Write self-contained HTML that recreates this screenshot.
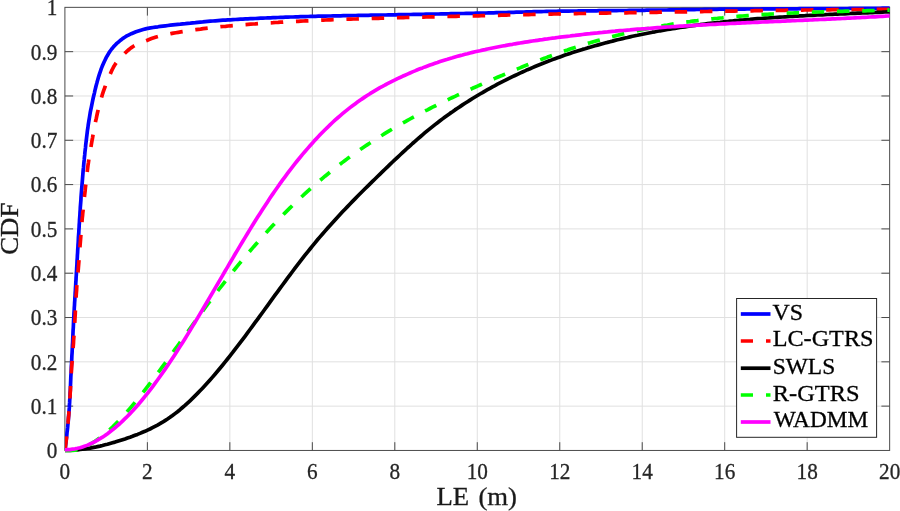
<!DOCTYPE html>
<html><head><meta charset="utf-8"><title>CDF</title>
<style>
html,body{margin:0;padding:0;background:#fff;}
body{width:900px;height:511px;overflow:hidden;}
svg{display:block;}
text{font-family:"Liberation Serif",serif;fill:#262626;}
.tk text{font-size:23.2px;stroke:#262626;stroke-width:0.3px;}
.lg{font-size:23px;fill:#000;stroke:#000;stroke-width:0.3px;}
.ax{font-size:24px;fill:#1a1a1a;stroke:#1a1a1a;stroke-width:0.3px;}
</style></head><body>
<svg width="900" height="511" viewBox="0 0 900 511">
<rect width="900" height="511" fill="#fff"/>
<g stroke="#e0e0e0" stroke-width="1"><line x1="147.38" y1="450.45" x2="147.38" y2="7.35"/><line x1="229.85" y1="450.45" x2="229.85" y2="7.35"/><line x1="312.33" y1="450.45" x2="312.33" y2="7.35"/><line x1="394.80" y1="450.45" x2="394.80" y2="7.35"/><line x1="477.27" y1="450.45" x2="477.27" y2="7.35"/><line x1="559.75" y1="450.45" x2="559.75" y2="7.35"/><line x1="642.23" y1="450.45" x2="642.23" y2="7.35"/><line x1="724.70" y1="450.45" x2="724.70" y2="7.35"/><line x1="807.17" y1="450.45" x2="807.17" y2="7.35"/><line x1="64.90" y1="406.14" x2="889.65" y2="406.14"/><line x1="64.90" y1="361.83" x2="889.65" y2="361.83"/><line x1="64.90" y1="317.52" x2="889.65" y2="317.52"/><line x1="64.90" y1="273.21" x2="889.65" y2="273.21"/><line x1="64.90" y1="228.90" x2="889.65" y2="228.90"/><line x1="64.90" y1="184.59" x2="889.65" y2="184.59"/><line x1="64.90" y1="140.28" x2="889.65" y2="140.28"/><line x1="64.90" y1="95.97" x2="889.65" y2="95.97"/><line x1="64.90" y1="51.66" x2="889.65" y2="51.66"/></g>
<rect x="64.9" y="7.35" width="824.75" height="443.09999999999997" fill="none" stroke="#4a4a4a" stroke-width="1"/>
<g stroke="#4a4a4a" stroke-width="1"><line x1="147.38" y1="450.45" x2="147.38" y2="442.20"/><line x1="147.38" y1="7.35" x2="147.38" y2="15.60"/><line x1="229.85" y1="450.45" x2="229.85" y2="442.20"/><line x1="229.85" y1="7.35" x2="229.85" y2="15.60"/><line x1="312.33" y1="450.45" x2="312.33" y2="442.20"/><line x1="312.33" y1="7.35" x2="312.33" y2="15.60"/><line x1="394.80" y1="450.45" x2="394.80" y2="442.20"/><line x1="394.80" y1="7.35" x2="394.80" y2="15.60"/><line x1="477.27" y1="450.45" x2="477.27" y2="442.20"/><line x1="477.27" y1="7.35" x2="477.27" y2="15.60"/><line x1="559.75" y1="450.45" x2="559.75" y2="442.20"/><line x1="559.75" y1="7.35" x2="559.75" y2="15.60"/><line x1="642.23" y1="450.45" x2="642.23" y2="442.20"/><line x1="642.23" y1="7.35" x2="642.23" y2="15.60"/><line x1="724.70" y1="450.45" x2="724.70" y2="442.20"/><line x1="724.70" y1="7.35" x2="724.70" y2="15.60"/><line x1="807.17" y1="450.45" x2="807.17" y2="442.20"/><line x1="807.17" y1="7.35" x2="807.17" y2="15.60"/><line x1="64.90" y1="406.14" x2="73.15" y2="406.14"/><line x1="889.65" y1="406.14" x2="881.40" y2="406.14"/><line x1="64.90" y1="361.83" x2="73.15" y2="361.83"/><line x1="889.65" y1="361.83" x2="881.40" y2="361.83"/><line x1="64.90" y1="317.52" x2="73.15" y2="317.52"/><line x1="889.65" y1="317.52" x2="881.40" y2="317.52"/><line x1="64.90" y1="273.21" x2="73.15" y2="273.21"/><line x1="889.65" y1="273.21" x2="881.40" y2="273.21"/><line x1="64.90" y1="228.90" x2="73.15" y2="228.90"/><line x1="889.65" y1="228.90" x2="881.40" y2="228.90"/><line x1="64.90" y1="184.59" x2="73.15" y2="184.59"/><line x1="889.65" y1="184.59" x2="881.40" y2="184.59"/><line x1="64.90" y1="140.28" x2="73.15" y2="140.28"/><line x1="889.65" y1="140.28" x2="881.40" y2="140.28"/><line x1="64.90" y1="95.97" x2="73.15" y2="95.97"/><line x1="889.65" y1="95.97" x2="881.40" y2="95.97"/><line x1="64.90" y1="51.66" x2="73.15" y2="51.66"/><line x1="889.65" y1="51.66" x2="881.40" y2="51.66"/></g>
<clipPath id="cp"><rect x="64.9" y="3.3499999999999996" width="824.75" height="451.09999999999997"/></clipPath>
<g fill="none" stroke-width="3.7" stroke-linejoin="round" clip-path="url(#cp)">
<path stroke="#0000ff" d="M65.0,450.3 L65.3,447.8 L65.6,445.3 L65.9,442.8 L66.2,440.3 L66.5,437.8 L66.8,435.3 L67.0,432.8 L67.3,430.4 L67.6,427.9 L67.8,425.4 L68.1,422.9 L68.3,420.4 L68.5,417.9 L68.7,415.4 L68.9,412.9 L69.1,410.4 L69.3,407.9 L69.4,405.4 L69.6,402.9 L69.7,400.4 L69.9,397.9 L70.0,395.4 L70.1,392.8 L70.3,390.3 L70.4,387.8 L70.5,385.3 L70.6,382.8 L70.7,380.3 L70.8,377.8 L70.9,375.3 L71.1,372.8 L71.2,370.3 L71.3,367.8 L71.4,365.3 L71.6,362.8 L71.7,360.3 L71.8,357.8 L71.9,355.3 L72.1,352.7 L72.2,350.2 L72.3,347.7 L72.4,345.2 L72.6,342.7 L72.7,340.2 L72.8,337.7 L72.9,335.2 L73.0,332.7 L73.1,330.2 L73.3,327.7 L73.4,325.2 L73.5,322.7 L73.6,320.2 L73.8,317.7 L73.9,315.2 L74.0,312.7 L74.2,310.2 L74.3,307.6 L74.5,305.1 L74.6,302.6 L74.8,300.1 L74.9,297.6 L75.1,295.1 L75.2,292.6 L75.4,290.1 L75.5,287.6 L75.7,285.1 L75.8,282.6 L76.0,280.1 L76.1,277.6 L76.3,275.1 L76.4,272.6 L76.6,270.1 L76.7,267.6 L76.9,265.1 L77.0,262.6 L77.1,260.1 L77.3,257.6 L77.4,255.1 L77.6,252.6 L77.7,250.0 L77.9,247.5 L78.0,245.0 L78.2,242.5 L78.3,240.0 L78.4,237.5 L78.6,235.0 L78.8,232.5 L78.9,230.0 L79.1,227.5 L79.2,225.0 L79.4,222.5 L79.5,220.0 L79.7,217.5 L79.9,215.0 L80.0,212.5 L80.2,210.0 L80.3,207.5 L80.5,205.0 L80.7,202.5 L80.9,200.0 L81.0,197.5 L81.2,195.0 L81.4,192.5 L81.6,190.0 L81.8,187.5 L82.0,185.0 L82.2,182.5 L82.4,180.0 L82.6,177.5 L82.8,175.0 L83.0,172.5 L83.2,170.0 L83.5,167.5 L83.7,165.0 L83.9,162.5 L84.2,160.0 L84.4,157.5 L84.7,155.0 L84.9,152.5 L85.2,150.0 L85.5,147.5 L85.7,145.0 L86.0,142.5 L86.3,140.0 L86.6,137.5 L86.9,135.0 L87.2,132.5 L87.5,130.1 L87.9,127.6 L88.2,125.1 L88.6,122.6 L89.0,120.1 L89.4,117.7 L89.8,115.2 L90.2,112.7 L90.7,110.2 L91.2,107.8 L91.7,105.3 L92.2,102.9 L92.7,100.4 L93.2,98.0 L93.8,95.5 L94.4,93.1 L94.9,90.6 L95.5,88.2 L96.1,85.7 L96.8,83.3 L97.4,80.9 L98.1,78.5 L98.8,76.1 L99.6,73.7 L100.4,71.3 L101.2,68.9 L102.1,66.6 L103.1,64.3 L104.1,62.0 L105.2,59.7 L106.3,57.4 L107.6,55.2 L108.8,53.1 L110.2,51.0 L111.7,49.0 L113.3,47.1 L115.0,45.2 L116.8,43.4 L118.7,41.8 L120.6,40.2 L122.6,38.6 L124.7,37.2 L126.8,35.9 L129.0,34.8 L131.3,33.7 L133.7,32.7 L136.0,31.8 L138.4,31.0 L140.8,30.2 L143.2,29.5 L145.6,28.9 L148.0,28.3 L150.5,27.9 L153.0,27.5 L155.5,27.1 L158.0,26.8 L160.4,26.4 L162.9,26.1 L165.4,25.8 L167.9,25.5 L170.4,25.2 L172.9,24.9 L175.4,24.6 L177.9,24.3 L180.4,24.1 L182.9,23.8 L185.4,23.6 L187.9,23.3 L190.4,23.1 L192.9,22.8 L195.4,22.6 L197.8,22.3 L200.3,22.1 L202.8,21.9 L205.3,21.6 L207.8,21.4 L210.3,21.2 L212.8,21.0 L215.3,20.8 L217.9,20.6 L220.4,20.4 L222.9,20.2 L225.4,20.1 L227.9,19.9 L230.4,19.8 L232.9,19.6 L235.4,19.5 L237.9,19.3 L240.4,19.2 L242.9,19.1 L245.4,18.9 L247.9,18.8 L250.4,18.7 L252.9,18.6 L255.4,18.5 L257.9,18.3 L260.4,18.2 L262.9,18.1 L265.4,18.0 L267.9,17.9 L270.4,17.8 L273.0,17.7 L275.5,17.6 L278.0,17.5 L280.5,17.4 L283.0,17.3 L285.5,17.2 L288.0,17.1 L290.5,17.0 L293.0,17.0 L295.5,16.9 L298.0,16.8 L300.5,16.7 L303.0,16.6 L305.6,16.6 L308.1,16.5 L310.6,16.4 L313.1,16.4 L315.6,16.3 L318.1,16.2 L320.6,16.2 L323.1,16.1 L325.6,16.1 L328.1,16.0 L330.6,16.0 L333.1,15.9 L335.6,15.9 L338.2,15.8 L340.7,15.8 L343.2,15.7 L345.7,15.7 L348.2,15.6 L350.7,15.6 L353.2,15.5 L355.7,15.5 L358.2,15.4 L360.7,15.4 L363.2,15.4 L365.7,15.3 L368.3,15.3 L370.8,15.2 L373.3,15.2 L375.8,15.1 L378.3,15.1 L380.8,15.1 L383.3,15.0 L385.8,15.0 L388.3,14.9 L390.8,14.9 L393.3,14.8 L395.8,14.8 L398.4,14.7 L400.9,14.7 L403.4,14.6 L405.9,14.6 L408.4,14.5 L410.9,14.5 L413.4,14.4 L415.9,14.4 L418.4,14.4 L420.9,14.3 L423.4,14.3 L425.9,14.2 L428.5,14.2 L431.0,14.1 L433.5,14.1 L436.0,14.0 L438.5,14.0 L441.0,13.9 L443.5,13.9 L446.0,13.8 L448.5,13.8 L451.0,13.7 L453.5,13.7 L456.0,13.6 L458.6,13.6 L461.1,13.5 L463.6,13.5 L466.1,13.4 L468.6,13.4 L471.1,13.3 L473.6,13.3 L476.1,13.2 L478.6,13.2 L481.1,13.1 L483.6,13.1 L486.1,13.0 L488.7,12.9 L491.2,12.9 L493.7,12.8 L496.2,12.7 L498.7,12.7 L501.2,12.6 L503.7,12.5 L506.2,12.5 L508.7,12.4 L511.2,12.3 L513.7,12.3 L516.2,12.2 L518.7,12.1 L521.3,12.1 L523.8,12.0 L526.3,11.9 L528.8,11.9 L531.3,11.8 L533.8,11.7 L536.3,11.7 L538.8,11.6 L541.3,11.6 L543.8,11.5 L546.3,11.4 L548.8,11.4 L551.3,11.3 L553.9,11.3 L556.4,11.3 L558.9,11.2 L561.4,11.2 L563.9,11.1 L566.4,11.1 L568.9,11.1 L571.4,11.0 L573.9,11.0 L576.4,11.0 L578.9,10.9 L581.4,10.9 L584.0,10.9 L586.5,10.9 L589.0,10.8 L591.5,10.8 L594.0,10.8 L596.5,10.8 L599.0,10.7 L601.5,10.7 L604.0,10.7 L606.5,10.7 L609.0,10.6 L611.5,10.6 L614.1,10.6 L616.6,10.6 L619.1,10.5 L621.6,10.5 L624.1,10.5 L626.6,10.5 L629.1,10.4 L631.6,10.4 L634.1,10.4 L636.6,10.4 L639.1,10.3 L641.7,10.3 L644.2,10.3 L646.7,10.2 L649.2,10.2 L651.7,10.2 L654.2,10.1 L656.7,10.1 L659.2,10.1 L661.7,10.0 L664.2,10.0 L666.7,10.0 L669.2,9.9 L671.8,9.9 L674.3,9.9 L676.8,9.8 L679.3,9.8 L681.8,9.7 L684.3,9.7 L686.8,9.7 L689.3,9.6 L691.8,9.6 L694.3,9.6 L696.8,9.5 L699.3,9.5 L701.9,9.5 L704.4,9.4 L706.9,9.4 L709.4,9.4 L711.9,9.3 L714.4,9.3 L716.9,9.3 L719.4,9.2 L721.9,9.2 L724.4,9.2 L726.9,9.2 L729.4,9.2 L732.0,9.1 L734.5,9.1 L737.0,9.1 L739.5,9.1 L742.0,9.1 L744.5,9.1 L747.0,9.0 L749.5,9.0 L752.0,9.0 L754.5,9.0 L757.0,9.0 L759.6,9.0 L762.1,8.9 L764.6,8.9 L767.1,8.9 L769.6,8.9 L772.1,8.9 L774.6,8.9 L777.1,8.9 L779.6,8.9 L782.1,8.8 L784.6,8.8 L787.1,8.8 L789.7,8.8 L792.2,8.8 L794.7,8.8 L797.2,8.8 L799.7,8.7 L802.2,8.7 L804.7,8.7 L807.2,8.7 L809.7,8.7 L812.2,8.7 L814.7,8.7 L817.3,8.6 L819.8,8.6 L822.3,8.6 L824.8,8.6 L827.3,8.6 L829.8,8.6 L832.3,8.5 L834.8,8.5 L837.3,8.5 L839.8,8.5 L842.3,8.5 L844.8,8.5 L847.4,8.5 L849.9,8.4 L852.4,8.4 L854.9,8.4 L857.4,8.4 L859.9,8.4 L862.4,8.4 L864.9,8.4 L867.4,8.3 L869.9,8.3 L872.4,8.3 L874.9,8.3 L877.5,8.3 L880.0,8.3 L882.5,8.2 L885.0,8.2 L887.5,8.2 L890.0,8.2"/>
<path stroke="#ff0000" stroke-dasharray="12.5 12.76" stroke-dashoffset="-1.5" d="M65.0,450.3 L65.3,447.8 L65.6,445.3 L65.9,442.8 L66.2,440.3 L66.5,437.8 L66.7,435.3 L67.0,432.8 L67.2,430.3 L67.5,427.9 L67.7,425.4 L68.0,422.9 L68.2,420.4 L68.4,417.9 L68.7,415.4 L68.9,412.9 L69.1,410.4 L69.3,407.9 L69.4,405.4 L69.6,402.9 L69.8,400.4 L69.9,397.9 L70.1,395.4 L70.2,392.9 L70.4,390.3 L70.5,387.8 L70.6,385.3 L70.8,382.8 L70.9,380.3 L71.0,377.8 L71.2,375.3 L71.3,372.8 L71.5,370.3 L71.6,367.8 L71.8,365.3 L72.0,362.8 L72.2,360.3 L72.4,357.8 L72.6,355.3 L72.7,352.8 L72.9,350.3 L73.1,347.8 L73.3,345.3 L73.5,342.8 L73.6,340.3 L73.8,337.8 L74.0,335.3 L74.1,332.8 L74.3,330.3 L74.4,327.8 L74.6,325.3 L74.7,322.8 L74.9,320.3 L75.0,317.8 L75.2,315.2 L75.3,312.7 L75.4,310.2 L75.6,307.7 L75.7,305.2 L75.8,302.7 L75.9,300.2 L76.1,297.7 L76.2,295.2 L76.4,292.7 L76.6,290.2 L76.7,287.7 L76.9,285.2 L77.1,282.7 L77.4,280.2 L77.6,277.7 L77.8,275.2 L78.0,272.7 L78.2,270.2 L78.4,267.7 L78.6,265.2 L78.8,262.7 L79.0,260.2 L79.2,257.7 L79.4,255.2 L79.6,252.7 L79.7,250.2 L79.9,247.7 L80.1,245.2 L80.3,242.7 L80.5,240.2 L80.7,237.7 L80.9,235.2 L81.1,232.7 L81.3,230.2 L81.5,227.7 L81.7,225.2 L81.9,222.7 L82.1,220.2 L82.3,217.7 L82.6,215.2 L82.8,212.7 L83.1,210.2 L83.3,207.7 L83.6,205.2 L83.8,202.7 L84.1,200.2 L84.4,197.7 L84.6,195.2 L84.9,192.7 L85.2,190.2 L85.4,187.7 L85.7,185.3 L86.0,182.8 L86.2,180.3 L86.5,177.8 L86.8,175.3 L87.1,172.8 L87.4,170.3 L87.7,167.8 L88.0,165.3 L88.4,162.8 L88.7,160.4 L89.1,157.9 L89.5,155.4 L89.9,152.9 L90.3,150.4 L90.8,148.0 L91.2,145.5 L91.6,143.0 L92.0,140.6 L92.5,138.1 L92.9,135.6 L93.4,133.1 L93.8,130.7 L94.3,128.2 L94.8,125.7 L95.2,123.3 L95.7,120.8 L96.3,118.4 L96.8,115.9 L97.3,113.5 L97.9,111.0 L98.5,108.6 L99.1,106.2 L99.8,103.7 L100.4,101.3 L101.1,98.9 L101.8,96.5 L102.5,94.1 L103.3,91.7 L104.1,89.3 L105.0,87.0 L105.8,84.6 L106.8,82.3 L107.7,79.9 L108.7,77.6 L109.7,75.3 L110.7,73.0 L111.7,70.7 L112.8,68.5 L114.0,66.2 L115.3,64.1 L116.7,62.1 L118.3,60.1 L119.9,58.2 L121.7,56.4 L123.5,54.6 L125.3,52.8 L127.1,51.2 L129.0,49.5 L131.0,47.9 L133.1,46.5 L135.2,45.2 L137.4,44.1 L139.7,43.1 L142.1,42.2 L144.4,41.3 L146.8,40.4 L149.1,39.5 L151.5,38.6 L153.8,37.8 L156.2,37.0 L158.6,36.3 L161.1,35.7 L163.5,35.1 L166.0,34.6 L168.4,34.1 L170.9,33.6 L173.4,33.1 L175.8,32.7 L178.3,32.3 L180.8,31.9 L183.3,31.5 L185.7,31.1 L188.2,30.7 L190.7,30.4 L193.2,30.0 L195.7,29.7 L198.2,29.4 L200.6,29.1 L203.1,28.7 L205.6,28.4 L208.1,28.1 L210.6,27.8 L213.1,27.6 L215.6,27.3 L218.1,27.0 L220.6,26.7 L223.1,26.5 L225.6,26.3 L228.1,26.0 L230.6,25.8 L233.1,25.6 L235.6,25.4 L238.1,25.2 L240.6,25.0 L243.1,24.8 L245.6,24.6 L248.1,24.4 L250.6,24.2 L253.1,24.0 L255.6,23.9 L258.1,23.7 L260.6,23.5 L263.1,23.3 L265.6,23.2 L268.1,23.0 L270.6,22.8 L273.1,22.7 L275.6,22.5 L278.1,22.4 L280.6,22.2 L283.1,22.1 L285.6,21.9 L288.1,21.8 L290.6,21.7 L293.1,21.5 L295.6,21.4 L298.2,21.3 L300.7,21.1 L303.2,21.0 L305.7,20.9 L308.2,20.8 L310.7,20.7 L313.2,20.5 L315.7,20.4 L318.2,20.3 L320.7,20.2 L323.2,20.1 L325.7,20.0 L328.2,19.9 L330.7,19.8 L333.2,19.7 L335.7,19.6 L338.2,19.6 L340.8,19.5 L343.3,19.4 L345.8,19.3 L348.3,19.2 L350.8,19.1 L353.3,19.0 L355.8,19.0 L358.3,18.9 L360.8,18.8 L363.3,18.7 L365.8,18.6 L368.3,18.6 L370.8,18.5 L373.4,18.4 L375.9,18.3 L378.4,18.3 L380.9,18.2 L383.4,18.1 L385.9,18.1 L388.4,18.0 L390.9,17.9 L393.4,17.8 L395.9,17.8 L398.4,17.7 L400.9,17.6 L403.4,17.6 L405.9,17.5 L408.5,17.4 L411.0,17.4 L413.5,17.3 L416.0,17.2 L418.5,17.2 L421.0,17.1 L423.5,17.1 L426.0,17.0 L428.5,16.9 L431.0,16.9 L433.5,16.8 L436.0,16.8 L438.5,16.7 L441.1,16.6 L443.6,16.6 L446.1,16.5 L448.6,16.5 L451.1,16.4 L453.6,16.3 L456.1,16.3 L458.6,16.2 L461.1,16.2 L463.6,16.1 L466.1,16.1 L468.6,16.0 L471.1,15.9 L473.7,15.9 L476.2,15.8 L478.7,15.8 L481.2,15.7 L483.7,15.6 L486.2,15.6 L488.7,15.5 L491.2,15.5 L493.7,15.4 L496.2,15.3 L498.7,15.3 L501.2,15.2 L503.7,15.2 L506.3,15.1 L508.8,15.0 L511.3,15.0 L513.8,14.9 L516.3,14.9 L518.8,14.8 L521.3,14.7 L523.8,14.7 L526.3,14.6 L528.8,14.6 L531.3,14.5 L533.8,14.4 L536.4,14.4 L538.9,14.3 L541.4,14.3 L543.9,14.2 L546.4,14.2 L548.9,14.1 L551.4,14.1 L553.9,14.0 L556.4,14.0 L558.9,13.9 L561.4,13.9 L563.9,13.8 L566.4,13.8 L569.0,13.7 L571.5,13.7 L574.0,13.6 L576.5,13.6 L579.0,13.5 L581.5,13.5 L584.0,13.5 L586.5,13.4 L589.0,13.4 L591.5,13.3 L594.0,13.3 L596.5,13.2 L599.0,13.2 L601.6,13.2 L604.1,13.1 L606.6,13.1 L609.1,13.0 L611.6,13.0 L614.1,13.0 L616.6,12.9 L619.1,12.9 L621.6,12.8 L624.1,12.8 L626.6,12.8 L629.1,12.7 L631.7,12.7 L634.2,12.6 L636.7,12.6 L639.2,12.6 L641.7,12.5 L644.2,12.5 L646.7,12.4 L649.2,12.4 L651.7,12.3 L654.2,12.3 L656.7,12.3 L659.2,12.2 L661.8,12.2 L664.3,12.1 L666.8,12.1 L669.3,12.1 L671.8,12.0 L674.3,12.0 L676.8,11.9 L679.3,11.9 L681.8,11.9 L684.3,11.8 L686.8,11.8 L689.3,11.7 L691.8,11.7 L694.4,11.7 L696.9,11.6 L699.4,11.6 L701.9,11.6 L704.4,11.5 L706.9,11.5 L709.4,11.4 L711.9,11.4 L714.4,11.4 L716.9,11.3 L719.4,11.3 L721.9,11.2 L724.5,11.2 L727.0,11.2 L729.5,11.1 L732.0,11.1 L734.5,11.1 L737.0,11.0 L739.5,11.0 L742.0,10.9 L744.5,10.9 L747.0,10.9 L749.5,10.8 L752.0,10.8 L754.6,10.7 L757.1,10.7 L759.6,10.7 L762.1,10.6 L764.6,10.6 L767.1,10.5 L769.6,10.5 L772.1,10.5 L774.6,10.4 L777.1,10.4 L779.6,10.3 L782.1,10.3 L784.7,10.3 L787.2,10.2 L789.7,10.2 L792.2,10.2 L794.7,10.1 L797.2,10.1 L799.7,10.1 L802.2,10.1 L804.7,10.0 L807.2,10.0 L809.7,10.0 L812.2,9.9 L814.7,9.9 L817.3,9.9 L819.8,9.9 L822.3,9.8 L824.8,9.8 L827.3,9.8 L829.8,9.8 L832.3,9.7 L834.8,9.7 L837.3,9.7 L839.8,9.7 L842.3,9.6 L844.8,9.6 L847.4,9.6 L849.9,9.6 L852.4,9.6 L854.9,9.5 L857.4,9.5 L859.9,9.5 L862.4,9.5 L864.9,9.5 L867.4,9.4 L869.9,9.4 L872.4,9.4 L874.9,9.4 L877.5,9.4 L880.0,9.4 L882.5,9.3 L885.0,9.3 L887.5,9.3 L890.0,9.3"/>
<path stroke="#ff0000" d="M65,451 L65.3,447.3"/>
<path stroke="#000000" d="M65.0,450.4 L67.5,450.4 L70.0,450.3 L72.5,450.2 L75.0,450.0 L77.5,449.8 L80.0,449.5 L82.5,449.2 L85.0,448.9 L87.5,448.5 L90.0,448.1 L92.5,447.6 L95.0,447.2 L97.5,446.6 L100.0,446.1 L102.5,445.5 L105.0,444.8 L107.5,444.2 L110.0,443.5 L112.5,442.8 L115.0,442.1 L117.5,441.3 L120.0,440.5 L122.5,439.7 L125.0,438.9 L127.5,438.0 L130.0,437.2 L132.5,436.3 L135.0,435.3 L137.5,434.4 L140.0,433.4 L142.5,432.3 L145.0,431.3 L147.5,430.1 L150.0,429.0 L152.5,427.7 L155.0,426.4 L157.5,425.1 L160.0,423.7 L162.5,422.2 L165.0,420.6 L167.5,419.0 L170.0,417.3 L172.5,415.5 L175.0,413.6 L177.5,411.7 L180.0,409.7 L182.5,407.5 L185.0,405.4 L187.5,403.1 L190.0,400.8 L192.5,398.4 L195.0,395.9 L197.5,393.4 L200.0,390.8 L202.5,388.2 L205.0,385.5 L207.5,382.8 L210.0,380.0 L212.5,377.1 L215.0,374.2 L217.5,371.2 L220.0,368.2 L222.5,365.2 L225.0,362.1 L227.5,359.0 L230.0,355.8 L232.5,352.7 L235.0,349.4 L237.5,346.2 L240.0,342.9 L242.5,339.6 L245.0,336.3 L247.5,332.9 L250.0,329.5 L252.5,326.1 L255.0,322.7 L257.5,319.3 L260.0,315.9 L262.5,312.5 L265.0,309.0 L267.5,305.6 L270.0,302.1 L272.5,298.7 L275.0,295.2 L277.5,291.8 L280.0,288.4 L282.5,285.0 L285.0,281.6 L287.5,278.2 L290.0,274.9 L292.5,271.5 L295.0,268.2 L297.5,264.9 L300.0,261.7 L302.5,258.4 L305.0,255.2 L307.5,252.1 L310.0,249.0 L312.5,245.9 L315.0,242.8 L317.5,239.8 L320.0,236.9 L322.5,234.0 L325.0,231.1 L327.5,228.2 L330.0,225.4 L332.5,222.7 L335.0,219.9 L337.5,217.2 L340.0,214.5 L342.5,211.8 L345.0,209.2 L347.5,206.6 L350.0,204.0 L352.5,201.4 L355.0,198.9 L357.5,196.3 L360.0,193.8 L362.5,191.3 L365.0,188.8 L367.5,186.4 L370.0,183.9 L372.5,181.4 L375.0,179.0 L377.5,176.5 L380.0,174.1 L382.5,171.7 L385.0,169.2 L387.5,166.8 L390.0,164.4 L392.5,162.0 L395.0,159.7 L397.5,157.3 L400.0,155.0 L402.5,152.6 L405.0,150.3 L407.5,148.0 L410.0,145.8 L412.5,143.5 L415.0,141.3 L417.5,139.1 L420.0,137.0 L422.5,134.8 L425.0,132.7 L427.5,130.6 L430.0,128.6 L432.5,126.6 L435.0,124.6 L437.5,122.7 L440.0,120.8 L442.5,118.9 L445.0,117.0 L447.5,115.2 L450.0,113.4 L452.5,111.7 L455.0,109.9 L457.5,108.2 L460.0,106.6 L462.5,104.9 L465.0,103.3 L467.5,101.7 L470.0,100.1 L472.5,98.5 L475.0,97.0 L477.5,95.5 L480.0,94.0 L482.5,92.6 L485.0,91.1 L487.5,89.7 L490.0,88.3 L492.5,86.9 L495.0,85.6 L497.5,84.2 L500.0,82.9 L502.5,81.6 L505.0,80.4 L507.5,79.1 L510.0,77.9 L512.5,76.7 L515.0,75.5 L517.5,74.3 L520.0,73.1 L522.5,72.0 L525.0,70.9 L527.5,69.7 L530.0,68.7 L532.5,67.6 L535.0,66.5 L537.5,65.5 L540.0,64.5 L542.5,63.5 L545.0,62.5 L547.5,61.5 L550.0,60.6 L552.5,59.6 L555.0,58.7 L557.5,57.8 L560.0,56.9 L562.5,56.0 L565.0,55.1 L567.5,54.3 L570.0,53.4 L572.5,52.6 L575.0,51.8 L577.5,51.0 L580.0,50.2 L582.5,49.4 L585.0,48.7 L587.5,47.9 L590.0,47.2 L592.5,46.5 L595.0,45.8 L597.5,45.1 L600.0,44.4 L602.5,43.7 L605.0,43.0 L607.5,42.4 L610.0,41.7 L612.5,41.1 L615.0,40.4 L617.5,39.8 L620.0,39.2 L622.5,38.6 L625.0,38.0 L627.5,37.5 L630.0,36.9 L632.5,36.3 L635.0,35.8 L637.5,35.3 L640.0,34.7 L642.5,34.2 L645.0,33.7 L647.5,33.2 L650.0,32.7 L652.5,32.2 L655.0,31.8 L657.5,31.3 L660.0,30.8 L662.5,30.4 L665.0,30.0 L667.5,29.5 L670.0,29.1 L672.5,28.7 L675.0,28.3 L677.5,27.9 L680.0,27.5 L682.5,27.1 L685.0,26.8 L687.5,26.4 L690.0,26.0 L692.5,25.7 L695.0,25.3 L697.5,25.0 L700.0,24.7 L702.5,24.3 L705.0,24.0 L707.5,23.7 L710.0,23.4 L712.5,23.1 L715.0,22.8 L717.5,22.5 L720.0,22.3 L722.5,22.0 L725.0,21.7 L727.5,21.5 L730.0,21.2 L732.5,21.0 L735.0,20.7 L737.5,20.5 L740.0,20.2 L742.5,20.0 L745.0,19.8 L747.5,19.6 L750.0,19.4 L752.5,19.1 L755.0,18.9 L757.5,18.7 L760.0,18.5 L762.5,18.4 L765.0,18.2 L767.5,18.0 L770.0,17.8 L772.5,17.6 L775.0,17.5 L777.5,17.3 L780.0,17.1 L782.5,17.0 L785.0,16.8 L787.5,16.7 L790.0,16.5 L792.5,16.4 L795.0,16.2 L797.5,16.1 L800.0,15.9 L802.5,15.8 L805.0,15.7 L807.5,15.5 L810.0,15.4 L812.5,15.3 L815.0,15.1 L817.5,15.0 L820.0,14.9 L822.5,14.8 L825.0,14.7 L827.5,14.5 L830.0,14.4 L832.5,14.3 L835.0,14.2 L837.5,14.1 L840.0,14.0 L842.5,13.9 L845.0,13.8 L847.5,13.7 L850.0,13.5 L852.5,13.4 L855.0,13.3 L857.5,13.2 L860.0,13.1 L862.5,13.0 L865.0,12.9 L867.5,12.8 L870.0,12.7 L872.5,12.6 L875.0,12.5 L877.5,12.4 L880.0,12.3 L882.5,12.2 L885.0,12.0 L887.5,11.9 L890.0,11.8"/>
<path stroke="#00ff00" stroke-dasharray="12.5 12.7" stroke-dashoffset="0" d="M65.0,450.4 L67.5,450.4 L70.0,450.4 L72.5,450.4 L75.0,450.2 L77.5,449.6 L80.0,448.8 L82.5,447.9 L85.0,446.8 L87.5,445.6 L90.0,444.3 L92.5,442.9 L95.0,441.3 L97.5,439.6 L100.0,437.8 L102.5,435.8 L105.0,433.8 L107.5,431.6 L110.0,429.4 L112.5,427.1 L115.0,424.6 L117.5,422.1 L120.0,419.5 L122.5,416.9 L125.0,414.1 L127.5,411.3 L130.0,408.4 L132.5,405.4 L135.0,402.4 L137.5,399.4 L140.0,396.3 L142.5,393.1 L145.0,389.9 L147.5,386.7 L150.0,383.4 L152.5,380.1 L155.0,376.8 L157.5,373.4 L160.0,370.1 L162.5,366.7 L165.0,363.3 L167.5,359.8 L170.0,356.4 L172.5,352.9 L175.0,349.4 L177.5,346.0 L180.0,342.5 L182.5,339.0 L185.0,335.5 L187.5,332.0 L190.0,328.6 L192.5,325.1 L195.0,321.6 L197.5,318.2 L200.0,314.7 L202.5,311.3 L205.0,307.9 L207.5,304.5 L210.0,301.2 L212.5,297.9 L215.0,294.5 L217.5,291.3 L220.0,288.0 L222.5,284.8 L225.0,281.6 L227.5,278.4 L230.0,275.2 L232.5,272.1 L235.0,269.0 L237.5,265.9 L240.0,262.9 L242.5,259.9 L245.0,256.9 L247.5,253.9 L250.0,251.0 L252.5,248.1 L255.0,245.2 L257.5,242.4 L260.0,239.5 L262.5,236.7 L265.0,234.0 L267.5,231.2 L270.0,228.5 L272.5,225.8 L275.0,223.2 L277.5,220.6 L280.0,218.0 L282.5,215.4 L285.0,212.9 L287.5,210.4 L290.0,207.9 L292.5,205.5 L295.0,203.0 L297.5,200.7 L300.0,198.3 L302.5,196.0 L305.0,193.7 L307.5,191.4 L310.0,189.1 L312.5,186.9 L315.0,184.7 L317.5,182.6 L320.0,180.4 L322.5,178.3 L325.0,176.2 L327.5,174.2 L330.0,172.2 L332.5,170.2 L335.0,168.2 L337.5,166.2 L340.0,164.3 L342.5,162.4 L345.0,160.5 L347.5,158.6 L350.0,156.8 L352.5,155.0 L355.0,153.2 L357.5,151.5 L360.0,149.7 L362.5,148.0 L365.0,146.3 L367.5,144.6 L370.0,143.0 L372.5,141.3 L375.0,139.7 L377.5,138.1 L380.0,136.5 L382.5,135.0 L385.0,133.4 L387.5,131.9 L390.0,130.4 L392.5,128.9 L395.0,127.5 L397.5,126.0 L400.0,124.6 L402.5,123.2 L405.0,121.8 L407.5,120.4 L410.0,119.0 L412.5,117.6 L415.0,116.3 L417.5,115.0 L420.0,113.6 L422.5,112.3 L425.0,111.0 L427.5,109.8 L430.0,108.5 L432.5,107.2 L435.0,106.0 L437.5,104.7 L440.0,103.5 L442.5,102.3 L445.0,101.1 L447.5,99.9 L450.0,98.7 L452.5,97.5 L455.0,96.4 L457.5,95.2 L460.0,94.0 L462.5,92.9 L465.0,91.7 L467.5,90.6 L470.0,89.5 L472.5,88.3 L475.0,87.2 L477.5,86.1 L480.0,85.0 L482.5,83.9 L485.0,82.8 L487.5,81.7 L490.0,80.6 L492.5,79.5 L495.0,78.4 L497.5,77.3 L500.0,76.2 L502.5,75.2 L505.0,74.1 L507.5,73.0 L510.0,72.0 L512.5,71.0 L515.0,69.9 L517.5,68.9 L520.0,67.9 L522.5,66.8 L525.0,65.8 L527.5,64.8 L530.0,63.8 L532.5,62.9 L535.0,61.9 L537.5,60.9 L540.0,60.0 L542.5,59.0 L545.0,58.1 L547.5,57.1 L550.0,56.2 L552.5,55.3 L555.0,54.4 L557.5,53.5 L560.0,52.6 L562.5,51.7 L565.0,50.8 L567.5,50.0 L570.0,49.1 L572.5,48.3 L575.0,47.5 L577.5,46.7 L580.0,45.9 L582.5,45.1 L585.0,44.3 L587.5,43.5 L590.0,42.8 L592.5,42.0 L595.0,41.3 L597.5,40.6 L600.0,39.9 L602.5,39.2 L605.0,38.5 L607.5,37.8 L610.0,37.2 L612.5,36.5 L615.0,35.9 L617.5,35.2 L620.0,34.6 L622.5,34.0 L625.0,33.4 L627.5,32.9 L630.0,32.3 L632.5,31.7 L635.0,31.2 L637.5,30.6 L640.0,30.1 L642.5,29.6 L645.0,29.1 L647.5,28.6 L650.0,28.1 L652.5,27.6 L655.0,27.2 L657.5,26.7 L660.0,26.2 L662.5,25.8 L665.0,25.4 L667.5,25.0 L670.0,24.5 L672.5,24.1 L675.0,23.7 L677.5,23.4 L680.0,23.0 L682.5,22.6 L685.0,22.2 L687.5,21.9 L690.0,21.6 L692.5,21.2 L695.0,20.9 L697.5,20.6 L700.0,20.2 L702.5,19.9 L705.0,19.6 L707.5,19.4 L710.0,19.1 L712.5,18.8 L715.0,18.5 L717.5,18.3 L720.0,18.0 L722.5,17.8 L725.0,17.5 L727.5,17.3 L730.0,17.0 L732.5,16.8 L735.0,16.6 L737.5,16.4 L740.0,16.2 L742.5,16.0 L745.0,15.8 L747.5,15.6 L750.0,15.4 L752.5,15.2 L755.0,15.1 L757.5,14.9 L760.0,14.7 L762.5,14.6 L765.0,14.4 L767.5,14.3 L770.0,14.1 L772.5,14.0 L775.0,13.8 L777.5,13.7 L780.0,13.6 L782.5,13.4 L785.0,13.3 L787.5,13.2 L790.0,13.1 L792.5,13.0 L795.0,12.9 L797.5,12.8 L800.0,12.7 L802.5,12.6 L805.0,12.5 L807.5,12.4 L810.0,12.3 L812.5,12.2 L815.0,12.1 L817.5,12.0 L820.0,12.0 L822.5,11.9 L825.0,11.8 L827.5,11.7 L830.0,11.6 L832.5,11.6 L835.0,11.5 L837.5,11.4 L840.0,11.4 L842.5,11.3 L845.0,11.2 L847.5,11.2 L850.0,11.1 L852.5,11.1 L855.0,11.0 L857.5,10.9 L860.0,10.9 L862.5,10.8 L865.0,10.8 L867.5,10.7 L870.0,10.6 L872.5,10.6 L875.0,10.5 L877.5,10.5 L880.0,10.4 L882.5,10.3 L885.0,10.3 L887.5,10.2 L890.0,10.1"/>
<path stroke="#ff00ff" d="M65.0,449.8 L67.5,449.7 L70.0,449.6 L72.5,449.2 L75.0,448.8 L77.5,448.3 L80.0,447.7 L82.5,446.9 L85.0,446.1 L87.5,445.1 L90.0,444.0 L92.5,442.9 L95.0,441.6 L97.5,440.2 L100.0,438.7 L102.5,437.2 L105.0,435.5 L107.5,433.7 L110.0,431.8 L112.5,429.9 L115.0,427.8 L117.5,425.7 L120.0,423.5 L122.5,421.1 L125.0,418.7 L127.5,416.2 L130.0,413.6 L132.5,411.0 L135.0,408.2 L137.5,405.4 L140.0,402.5 L142.5,399.5 L145.0,396.4 L147.5,393.3 L150.0,390.1 L152.5,386.8 L155.0,383.4 L157.5,380.0 L160.0,376.5 L162.5,373.0 L165.0,369.4 L167.5,365.7 L170.0,362.0 L172.5,358.2 L175.0,354.4 L177.5,350.5 L180.0,346.6 L182.5,342.7 L185.0,338.7 L187.5,334.6 L190.0,330.6 L192.5,326.4 L195.0,322.3 L197.5,318.1 L200.0,313.9 L202.5,309.7 L205.0,305.5 L207.5,301.2 L210.0,297.0 L212.5,292.7 L215.0,288.4 L217.5,284.2 L220.0,279.9 L222.5,275.6 L225.0,271.3 L227.5,267.1 L230.0,262.8 L232.5,258.6 L235.0,254.3 L237.5,250.1 L240.0,245.9 L242.5,241.7 L245.0,237.6 L247.5,233.5 L250.0,229.4 L252.5,225.3 L255.0,221.3 L257.5,217.3 L260.0,213.4 L262.5,209.5 L265.0,205.7 L267.5,201.9 L270.0,198.1 L272.5,194.4 L275.0,190.8 L277.5,187.2 L280.0,183.7 L282.5,180.2 L285.0,176.8 L287.5,173.4 L290.0,170.1 L292.5,166.9 L295.0,163.7 L297.5,160.5 L300.0,157.5 L302.5,154.4 L305.0,151.5 L307.5,148.6 L310.0,145.7 L312.5,142.9 L315.0,140.1 L317.5,137.5 L320.0,134.8 L322.5,132.2 L325.0,129.7 L327.5,127.3 L330.0,124.9 L332.5,122.5 L335.0,120.2 L337.5,118.0 L340.0,115.8 L342.5,113.7 L345.0,111.6 L347.5,109.6 L350.0,107.6 L352.5,105.7 L355.0,103.9 L357.5,102.1 L360.0,100.3 L362.5,98.6 L365.0,96.9 L367.5,95.3 L370.0,93.7 L372.5,92.2 L375.0,90.7 L377.5,89.2 L380.0,87.7 L382.5,86.4 L385.0,85.0 L387.5,83.7 L390.0,82.4 L392.5,81.1 L395.0,79.9 L397.5,78.6 L400.0,77.5 L402.5,76.3 L405.0,75.2 L407.5,74.1 L410.0,73.0 L412.5,71.9 L415.0,70.9 L417.5,69.8 L420.0,68.8 L422.5,67.9 L425.0,66.9 L427.5,66.0 L430.0,65.1 L432.5,64.2 L435.0,63.3 L437.5,62.5 L440.0,61.6 L442.5,60.8 L445.0,60.0 L447.5,59.3 L450.0,58.5 L452.5,57.8 L455.0,57.0 L457.5,56.3 L460.0,55.6 L462.5,55.0 L465.0,54.3 L467.5,53.7 L470.0,53.0 L472.5,52.4 L475.0,51.8 L477.5,51.2 L480.0,50.7 L482.5,50.1 L485.0,49.6 L487.5,49.0 L490.0,48.5 L492.5,48.0 L495.0,47.5 L497.5,47.0 L500.0,46.5 L502.5,46.0 L505.0,45.6 L507.5,45.1 L510.0,44.7 L512.5,44.3 L515.0,43.8 L517.5,43.4 L520.0,43.0 L522.5,42.6 L525.0,42.2 L527.5,41.8 L530.0,41.4 L532.5,41.0 L535.0,40.7 L537.5,40.3 L540.0,39.9 L542.5,39.6 L545.0,39.2 L547.5,38.9 L550.0,38.5 L552.5,38.2 L555.0,37.9 L557.5,37.5 L560.0,37.2 L562.5,36.9 L565.0,36.6 L567.5,36.3 L570.0,36.0 L572.5,35.6 L575.0,35.4 L577.5,35.1 L580.0,34.8 L582.5,34.5 L585.0,34.2 L587.5,33.9 L590.0,33.7 L592.5,33.4 L595.0,33.1 L597.5,32.9 L600.0,32.6 L602.5,32.4 L605.0,32.1 L607.5,31.9 L610.0,31.6 L612.5,31.4 L615.0,31.2 L617.5,30.9 L620.0,30.7 L622.5,30.5 L625.0,30.3 L627.5,30.1 L630.0,29.9 L632.5,29.6 L635.0,29.4 L637.5,29.2 L640.0,29.0 L642.5,28.8 L645.0,28.7 L647.5,28.5 L650.0,28.3 L652.5,28.1 L655.0,27.9 L657.5,27.7 L660.0,27.6 L662.5,27.4 L665.0,27.2 L667.5,27.0 L670.0,26.9 L672.5,26.7 L675.0,26.6 L677.5,26.4 L680.0,26.2 L682.5,26.1 L685.0,25.9 L687.5,25.8 L690.0,25.6 L692.5,25.5 L695.0,25.4 L697.5,25.2 L700.0,25.1 L702.5,24.9 L705.0,24.8 L707.5,24.7 L710.0,24.5 L712.5,24.4 L715.0,24.3 L717.5,24.1 L720.0,24.0 L722.5,23.9 L725.0,23.8 L727.5,23.6 L730.0,23.5 L732.5,23.4 L735.0,23.3 L737.5,23.2 L740.0,23.1 L742.5,22.9 L745.0,22.8 L747.5,22.7 L750.0,22.6 L752.5,22.5 L755.0,22.4 L757.5,22.3 L760.0,22.1 L762.5,22.0 L765.0,21.9 L767.5,21.8 L770.0,21.7 L772.5,21.6 L775.0,21.5 L777.5,21.4 L780.0,21.3 L782.5,21.2 L785.0,21.1 L787.5,20.9 L790.0,20.8 L792.5,20.7 L795.0,20.6 L797.5,20.5 L800.0,20.4 L802.5,20.3 L805.0,20.2 L807.5,20.1 L810.0,20.0 L812.5,19.9 L815.0,19.7 L817.5,19.6 L820.0,19.5 L822.5,19.4 L825.0,19.3 L827.5,19.2 L830.0,19.1 L832.5,18.9 L835.0,18.8 L837.5,18.7 L840.0,18.6 L842.5,18.5 L845.0,18.3 L847.5,18.2 L850.0,18.1 L852.5,18.0 L855.0,17.8 L857.5,17.7 L860.0,17.6 L862.5,17.4 L865.0,17.3 L867.5,17.2 L870.0,17.0 L872.5,16.9 L875.0,16.8 L877.5,16.6 L880.0,16.5 L882.5,16.3 L885.0,16.2 L887.5,16.0 L890.0,15.9"/>
</g>
<g class="tk"><text transform="translate(64.90,478.6) scale(0.915,1)" text-anchor="middle">0</text><text transform="translate(147.38,478.6) scale(0.915,1)" text-anchor="middle">2</text><text transform="translate(229.85,478.6) scale(0.915,1)" text-anchor="middle">4</text><text transform="translate(312.33,478.6) scale(0.915,1)" text-anchor="middle">6</text><text transform="translate(394.80,478.6) scale(0.915,1)" text-anchor="middle">8</text><text transform="translate(477.27,478.6) scale(0.915,1)" text-anchor="middle">10</text><text transform="translate(559.75,478.6) scale(0.915,1)" text-anchor="middle">12</text><text transform="translate(642.23,478.6) scale(0.915,1)" text-anchor="middle">14</text><text transform="translate(724.70,478.6) scale(0.915,1)" text-anchor="middle">16</text><text transform="translate(807.17,478.6) scale(0.915,1)" text-anchor="middle">18</text><text transform="translate(889.65,478.6) scale(0.915,1)" text-anchor="middle">20</text><text transform="translate(57.3,458.35) scale(0.915,1)" text-anchor="end">0</text><text transform="translate(57.3,414.04) scale(0.915,1)" text-anchor="end">0.1</text><text transform="translate(57.3,369.73) scale(0.915,1)" text-anchor="end">0.2</text><text transform="translate(57.3,325.42) scale(0.915,1)" text-anchor="end">0.3</text><text transform="translate(57.3,281.11) scale(0.915,1)" text-anchor="end">0.4</text><text transform="translate(57.3,236.80) scale(0.915,1)" text-anchor="end">0.5</text><text transform="translate(57.3,192.49) scale(0.915,1)" text-anchor="end">0.6</text><text transform="translate(57.3,148.18) scale(0.915,1)" text-anchor="end">0.7</text><text transform="translate(57.3,103.87) scale(0.915,1)" text-anchor="end">0.8</text><text transform="translate(57.3,59.56) scale(0.915,1)" text-anchor="end">0.9</text><text transform="translate(57.3,15.25) scale(0.915,1)" text-anchor="end">1</text></g>
<text class="ax" transform="translate(476.7,504.7) scale(1.07,1)" text-anchor="middle" word-spacing="2.5" style="font-size:25px">LE (m)</text>
<text class="ax" transform="translate(17.9,228.7) rotate(-90) scale(1.12,1.08)" text-anchor="middle">CDF</text>
<rect x="736.6" y="298.5" width="140.0" height="138.8" fill="#fff" stroke="#262626" stroke-width="1"/><line x1="740.8" y1="314.0" x2="770.5" y2="314.0" stroke="#0000ff" stroke-width="3.7"/><text class="lg" transform="translate(772.6,319.5) scale(1.037,1)">VS</text><line x1="740.8" y1="341.0" x2="770.5" y2="341.0" stroke="#ff0000" stroke-width="3.7" stroke-dasharray="12.2 13"/><text class="lg" transform="translate(772.7,346.2) scale(1.052,1)">LC-GTRS</text><line x1="740.8" y1="368.2" x2="770.5" y2="368.2" stroke="#000000" stroke-width="3.7"/><text class="lg" transform="translate(772.8,373.7) scale(1.017,1)">SWLS</text><line x1="740.8" y1="395.0" x2="770.5" y2="395.0" stroke="#00ff00" stroke-width="3.7" stroke-dasharray="12.2 13"/><text class="lg" transform="translate(772.8,400.7) scale(1.061,1)">R-GTRS</text><line x1="740.8" y1="422.0" x2="770.5" y2="422.0" stroke="#ff00ff" stroke-width="3.7"/><text class="lg" transform="translate(773.7,427.4) scale(1.013,1)">WADMM</text>
</svg>
</body></html>
